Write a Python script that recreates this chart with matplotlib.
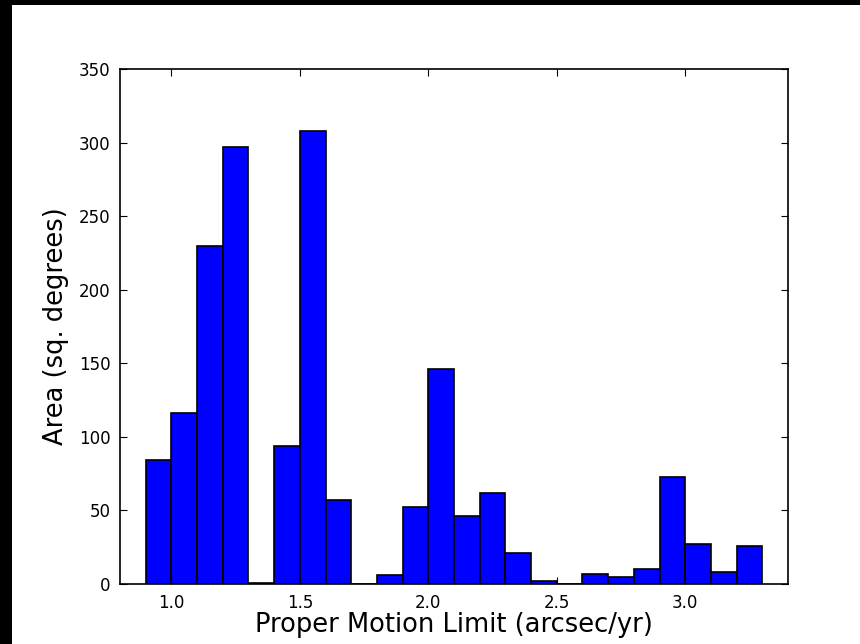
import numpy as np
import matplotlib.pyplot as plt
from matplotlib.patches import Rectangle

# histogram of survey area per proper motion limit bin (width 0.1 arcsec/yr)
bin_edges = [0.9, 1.0, 1.1, 1.2, 1.3, 1.4, 1.5, 1.6, 1.7, 1.8, 1.9, 2.0, 2.1,
             2.2, 2.3, 2.4, 2.5, 2.6, 2.7, 2.8, 2.9, 3.0, 3.1, 3.2, 3.3]
area = [84, 116, 230, 297, 0.7, 94, 308, 57, 0, 6, 52, 146, 46,
        62, 21, 2, 0, 7, 5, 10, 73, 27, 8, 26]
xticks = [1.0, 1.5, 2.0, 2.5, 3.0]
yticks = [0, 50, 100, 150, 200, 250, 300, 350]

W, H = 860, 644
fig = plt.figure(figsize=(W / 100, H / 100), dpi=100)
fig.patch.set_facecolor('white')

# black strips along top and left edges
fig.patches.append(Rectangle((0, 0), 12 / W, 1, transform=fig.transFigure,
                             facecolor='black', edgecolor='none', zorder=0))
fig.patches.append(Rectangle((0, 1 - 5 / H), 1, 5 / H, transform=fig.transFigure,
                             facecolor='black', edgecolor='none', zorder=0))

ax = fig.add_axes([120 / W, 1 - 584 / H, (788 - 120) / W, (584 - 69) / H])

edges = np.array(bin_edges)
ax.bar(edges[:-1], area, width=np.diff(edges), align='edge',
       color='#0000ff', edgecolor='black', linewidth=1.2)

ax.set_xlim(0.8, 3.4)
ax.set_ylim(0, 350)
ax.set_xticks(xticks)
ax.set_xticklabels([f'{t:.1f}' for t in xticks])
ax.set_yticks(yticks)
ax.tick_params(direction='in', top=True, right=True, length=5, width=0.8,
               labelsize=12, pad=7)
for s in ax.spines.values():
    s.set_linewidth(1.2)

ax.set_xlabel('Proper Motion Limit (arcsec/yr)', fontsize=18.5, labelpad=0)
ax.set_ylabel('Area (sq. degrees)', fontsize=18.5, labelpad=7)

fig.savefig('out.png', dpi=100)
